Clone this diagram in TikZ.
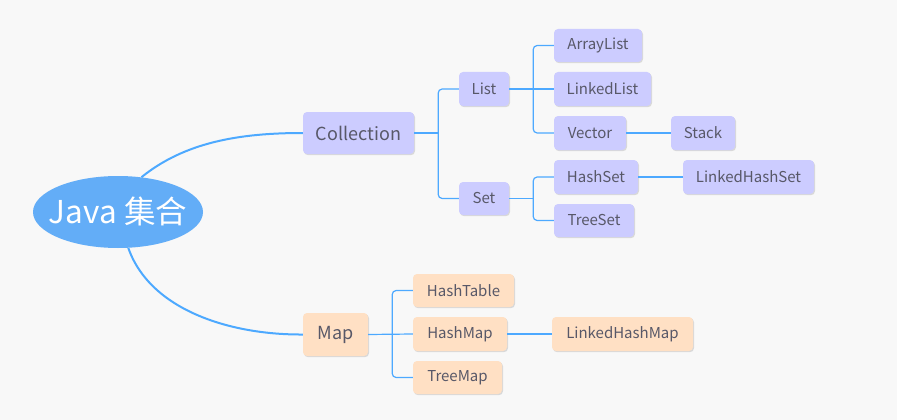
\documentclass[tikz,border=0pt]{standalone}
\usepackage{fontspec}
\setmainfont{Noto Sans CJK SC}
\usetikzlibrary{shapes.geometric,calc,shadows}
\definecolor{bg}{HTML}{F8F8F8}
\definecolor{lineblue}{HTML}{4DA9FF}
\definecolor{rootblue}{HTML}{63ADF7}
\definecolor{purplebox}{HTML}{CCCCFF}
\definecolor{peachbox}{HTML}{FFE0C4}
\definecolor{txt}{HTML}{585868}
\begin{document}
\begin{tikzpicture}[x=1pt,y=-1pt,
  every node/.style={inner sep=0pt},
  boxbase/.style={rounded corners=4pt, text=txt, font=\fontsize{15}{17}\selectfont,
     drop shadow={shadow xshift=1pt,shadow yshift=-1.2pt,fill=black,opacity=0.12}},
  pbox/.style={boxbase, fill=purplebox, minimum height=34pt},
  obox/.style={boxbase, fill=peachbox, minimum height=34pt},
  mainline/.style={draw=lineblue, line width=2pt},
  brline/.style={draw=lineblue, line width=1.2pt, rounded corners=4pt}
]
\fill[bg] (0,0) rectangle (897,420);
\useasboundingbox (0,0) rectangle (897,420);

% root
\node[ellipse, fill=rootblue, minimum width=170pt, minimum height=72pt, text=white,
      font=\fontsize{31.5}{34}\selectfont] (java) at (118,212)
      {\smash{\makebox[0pt]{\raisebox{-0.36em}{Java 集合}}}};

% level 1
\node[pbox, minimum width=111pt, minimum height=42pt, font=\fontsize{18}{20}\selectfont] (coll) at (358.5,133) {Collection};
\node[obox, minimum width=65pt, minimum height=43pt, font=\fontsize{18}{20}\selectfont] (map) at (335.5,334.5) {Map};

% level 2
\node[pbox, minimum width=50pt] (list) at (484,89) {List};
\node[pbox, minimum width=50pt, minimum height=33pt] (set) at (484,198.5) {Set};

% level 3 - list
\node[pbox, minimum width=88pt, minimum height=33pt] (al) at (598,45.5) {ArrayList};
\node[pbox, minimum width=97pt] (ll) at (602.5,89) {LinkedList};
\node[pbox, minimum width=72pt] (vec) at (590,133) {Vector};
\node[pbox, minimum width=64pt] (stack) at (703,133) {Stack};

% set
\node[pbox, minimum width=84pt] (hs) at (596,177) {HashSet};
\node[pbox, minimum width=131pt] (lhs) at (748.5,177) {LinkedHashSet};
\node[pbox, minimum width=80pt, minimum height=33pt] (ts) at (594,220.5) {TreeSet};

% map
\node[obox, minimum width=101pt, minimum height=33pt] (ht) at (463.5,290.5) {HashTable};
\node[obox, minimum width=94pt] (hm) at (460,334) {HashMap};
\node[obox, minimum width=89pt, minimum height=33pt] (tm) at (457.5,377.5) {TreeMap};
\node[obox, minimum width=141pt] (lhm) at (622.5,334) {LinkedHashMap};

% main curves
\draw[mainline] (java.56) .. controls (185,142) and (240,133) .. (coll.west);
\draw[mainline] (java.-74) .. controls (150,310) and (230,335) .. (map.west);

% brackets
\coordinate (cb) at ($(coll.east)+(24,0)$);
\draw[brline] (coll.east) -- (cb);
\draw[brline] (list.west) -| (cb) |- (set.west);

\coordinate (lb) at ($(list.east)+(24,0)$);
\draw[brline] (list.east) -- (ll.west);
\draw[brline] (al.west) -| (lb) |- (vec.west);
\draw[brline] (vec.east) -- (stack.west);

\coordinate (sb) at ($(set.east)+(24,0)$);
\draw[brline] (set.east) -- (sb);
\draw[brline] (hs.west) -| (sb) |- (ts.west);
\draw[brline] (hs.east) -- (lhs.west);

\coordinate (mb) at ($(map.east)+(24,0)$);
\draw[brline] (map.east) -- (hm.west);
\draw[brline] (ht.west) -| (mb) |- (tm.west);
\draw[brline] (hm.east) -- (lhm.west);
\end{tikzpicture}
\end{document}
